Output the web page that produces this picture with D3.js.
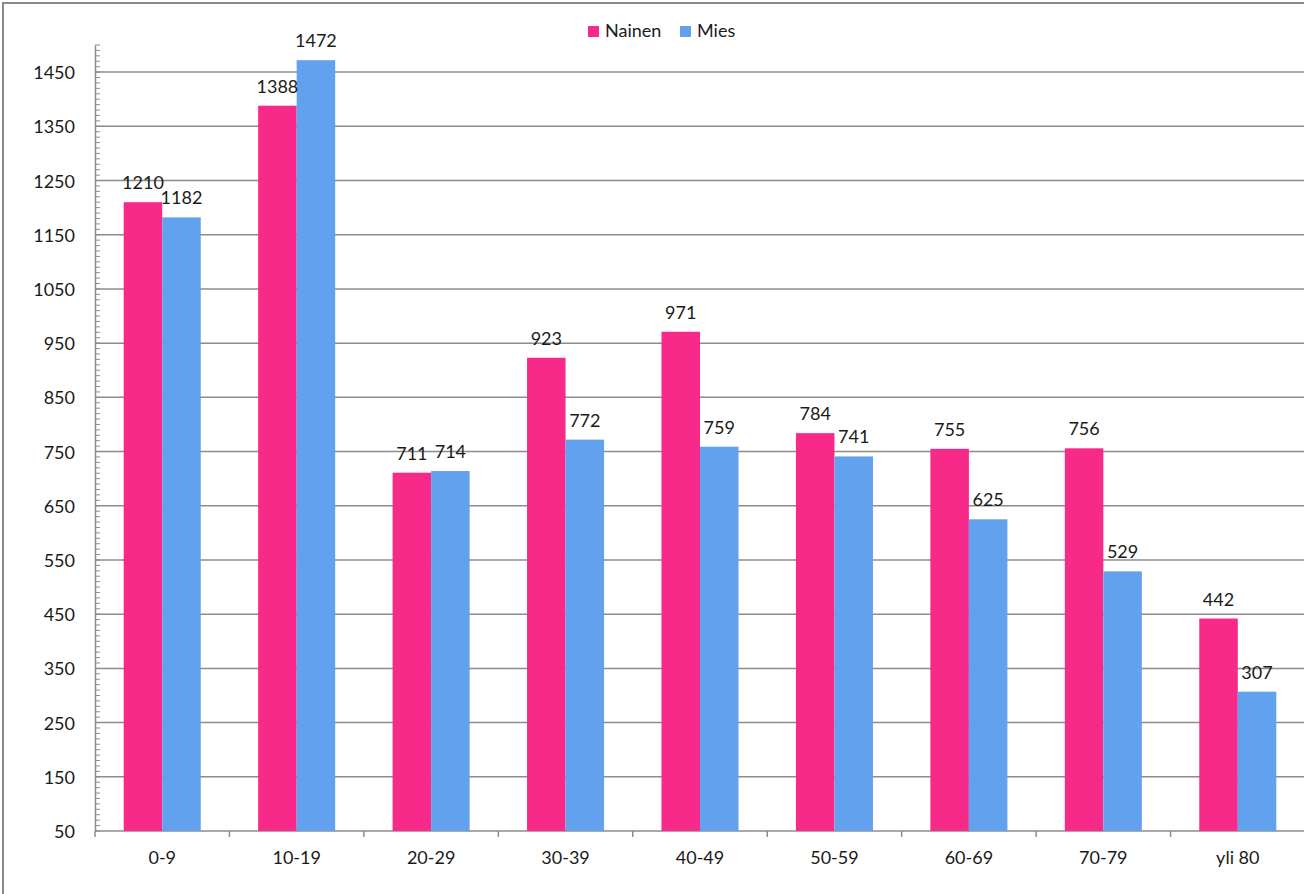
<!DOCTYPE html>
<html>
<head>
<meta charset="utf-8">
<script src="https://cdn.jsdelivr.net/npm/d3@7"></script>
<style>
  html, body { margin: 0; padding: 0; background: #fff; }
  svg { display: block; }
  text { font-family: Lato, "Open Sans", sans-serif; fill: #1a1a1a; }
</style>
</head>
<body>
<svg id="chart" width="1304" height="894"></svg>
<script>
const categories = ["0-9", "10-19", "20-29", "30-39", "40-49", "50-59", "60-69", "70-79", "yli 80"];
const seriesNames = ["Nainen", "Mies"];
const nainen = [1210, 1388, 711, 923, 971, 784, 755, 756, 442];
const mies = [1182, 1472, 714, 772, 759, 741, 625, 529, 307];
const yTicks = [50, 150, 250, 350, 450, 550, 650, 750, 850, 950, 1050, 1150, 1250, 1350, 1450];
const colors = ["#F72A89", "#62A1EE"];

(function () {
const svg = d3.select("#chart");
const pL = 95, pR = 1305, pT = 45, pB = 831;
const fs = 18;

const y = d3.scaleLinear().domain([50, 1500]).range([pB, pT]);
const x0 = d3.scaleBand().domain(categories).range([pL, pR]).paddingInner(0.427).paddingOuter(0.2135);
const x1 = d3.scaleBand().domain(seriesNames).range([0, x0.bandwidth()]);

// outer border (top & left)
svg.append("path").attr("d", "M3,894 L3,3 L1304,3").attr("fill", "none").attr("stroke", "#8a8a8a").attr("stroke-width", 2);

// gridlines
svg.append("g").selectAll("line").data(yTicks.slice(1)).join("line")
  .attr("x1", pL).attr("x2", 1304)
  .attr("y1", d => y(d)).attr("y2", d => y(d))
  .attr("stroke", "#8c8c8c").attr("stroke-width", 1.5);

// y axis
const yAxis = d3.axisLeft(y).tickValues(yTicks).tickSize(0).tickPadding(0).tickFormat(d3.format("d"));
const ya = svg.append("g").attr("transform", `translate(${pL},0)`).call(yAxis);
ya.select(".domain").attr("stroke", "#8c8c8c").attr("stroke-width", 1.5);
ya.selectAll("text").attr("x", -20).attr("font-size", fs).attr("dy", "0.36em").style("font-family", "Lato, sans-serif").attr("fill", "#1a1a1a");
// minor ticks
const minor = d3.range(50, 1501, 10);
svg.append("g").selectAll("line").data(minor).join("line")
  .attr("x1", pL).attr("x2", pL + 5)
  .attr("y1", d => y(d)).attr("y2", d => y(d))
  .attr("stroke", "#8c8c8c").attr("stroke-width", 1);

// x axis
const xAxis = d3.axisBottom(x0).tickSize(0).tickPadding(0);
const xa = svg.append("g").attr("transform", `translate(0,${pB})`).call(xAxis);
xa.select(".domain").remove();
xa.selectAll("text").attr("y", 20).attr("dy", "0.71em").attr("font-size", fs).style("font-family", "Lato, sans-serif").attr("fill", "#1a1a1a");
svg.append("line").attr("x1", pL).attr("x2", 1304).attr("y1", pB).attr("y2", pB)
  .attr("stroke", "#8c8c8c").attr("stroke-width", 1.5);
svg.append("g").selectAll("line").data(d3.range(categories.length + 1)).join("line")
  .attr("x1", i => pL + i * (pR - pL) / categories.length)
  .attr("x2", i => pL + i * (pR - pL) / categories.length)
  .attr("y1", pB).attr("y2", pB + 6)
  .attr("stroke", "#8c8c8c").attr("stroke-width", 1.5);

// bars
const data = categories.map((c, i) => ({ cat: c, vals: [{ s: "Nainen", v: nainen[i] }, { s: "Mies", v: mies[i] }] }));
const groups = svg.append("g").selectAll("g").data(data).join("g")
  .attr("transform", d => `translate(${x0(d.cat)},0)`);
groups.selectAll("rect").data(d => d.vals).join("rect")
  .attr("x", d => x1(d.s)).attr("width", x1.bandwidth())
  .attr("y", d => y(d.v)).attr("height", d => pB - y(d.v))
  .attr("fill", (d, i) => colors[i]);
groups.selectAll("text").data(d => d.vals).join("text")
  .attr("x", d => x1(d.s) + x1.bandwidth() / 2)
  .attr("y", d => y(d.v) - 13)
  .attr("text-anchor", "middle").attr("font-size", fs)
  .text(d => d.v);

// legend
const legend = svg.append("g");
const lx = [588, 680];
seriesNames.forEach((s, i) => {
  legend.append("rect").attr("x", lx[i]).attr("y", 26).attr("width", 11).attr("height", 11).attr("fill", colors[i]);
  legend.append("text").attr("x", lx[i] + 17).attr("y", 31).attr("dy", "0.36em").attr("font-size", fs).text(s);
});
})();
</script>
</body>
</html>
